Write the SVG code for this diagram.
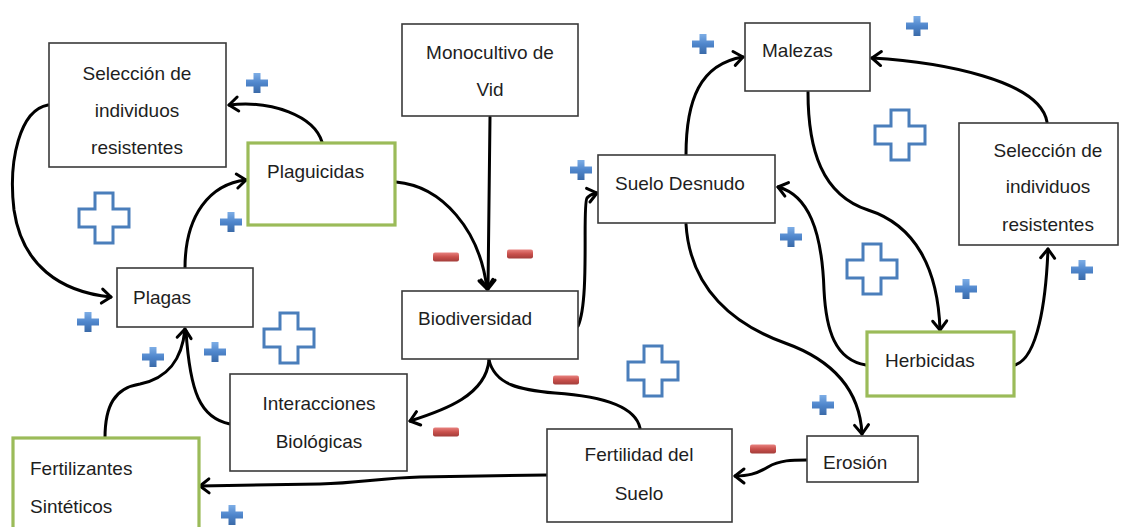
<svg xmlns="http://www.w3.org/2000/svg" width="1123" height="527" viewBox="0 0 1123 527">
<style>
.box{fill:#fff;stroke:#3a3a3a;stroke-width:1.6}
.gbox{fill:#fff;stroke:#9bbb59;stroke-width:3.2}
.t{font-family:"Liberation Sans",Arial,sans-serif;font-size:19px;fill:#1e1e1e}
.c{text-anchor:middle}
.con{fill:none;stroke:#000;stroke-width:3;stroke-linecap:round}
</style>
<defs>
<marker id="arr" markerUnits="userSpaceOnUse" markerWidth="24" markerHeight="24" viewBox="-12 -12 24 24" refX="0" refY="0" orient="auto">
<path d="M -9,-7 L 0,0 L -9,7" fill="none" stroke="#000" stroke-width="3" stroke-linecap="round" stroke-linejoin="round"/>
</marker>
<linearGradient id="bg" x1="0" y1="0" x2="0" y2="1">
<stop offset="0" stop-color="#7eaee6"/><stop offset="0.5" stop-color="#4f86cc"/><stop offset="1" stop-color="#3a6aa8"/>
</linearGradient>
<linearGradient id="rg" x1="0" y1="0" x2="0" y2="1">
<stop offset="0" stop-color="#e8827f"/><stop offset="0.5" stop-color="#c9504c"/><stop offset="1" stop-color="#a33d3a"/>
</linearGradient>
<g id="sp"><polygon points="-3.5,-10 3.5,-10 3.5,-3.5 11,-3.5 11,3.5 3.5,3.5 3.5,10 -3.5,10 -3.5,3.5 -11,3.5 -11,-3.5 -3.5,-3.5" fill="url(#bg)"/></g>
<g id="bp"><polygon points="-9,-25 9,-25 9,-9 25,-9 25,9 9,9 9,25 -9,25 -9,9 -25,9 -25,-9 -9,-9" fill="#fff" stroke="#4a7ebb" stroke-width="3"/></g>
<g id="mn"><rect x="-13" y="-4.5" width="26" height="9" rx="2" fill="url(#rg)"/></g>
</defs>

<g id="connectors">
<path class="con" d="M 48,105 C 20,110 8,160 14,210 C 22,265 60,292 111,297" marker-end="url(#arr)"/>
<path class="con" d="M 322,142 C 314,116 272,100 229,105" marker-end="url(#arr)"/>
<path class="con" d="M 185,268 C 185,215 210,184 246,180" marker-end="url(#arr)"/>
<path class="con" d="M 396,182 C 442,186 480,230 487,289" marker-end="url(#arr)"/>
<path class="con" d="M 490,117 L 488,289" marker-end="url(#arr)"/>
<path class="con" d="M 578,326 C 590,300 582,205 587,198 C 590,194 593,194 597,193" marker-end="url(#arr)"/>
<path class="con" d="M 686,155 C 686,100 700,64 743,57" marker-end="url(#arr)"/>
<path class="con" d="M 1047,122 C 1040,80 940,62 872,58" marker-end="url(#arr)"/>
<path class="con" d="M 808,92 C 808,150 822,195 868,210 C 915,225 938,268 940,330" marker-end="url(#arr)"/>
<path class="con" d="M 866,365 C 835,360 826,330 824,290 C 822,230 808,195 778,187" marker-end="url(#arr)"/>
<path class="con" d="M 1015,365 C 1038,358 1046,300 1048,249" marker-end="url(#arr)"/>
<path class="con" d="M 686,224 C 690,290 735,325 785,343 C 838,362 860,395 862,434" marker-end="url(#arr)"/>
<path class="con" d="M 489,360 C 486,395 445,410 410,421" marker-end="url(#arr)"/>
<path class="con" d="M 489,360 C 495,385 520,390 555,393 C 600,396 635,405 640,428"/>
<path class="con" d="M 807,460 C 792,460 780,460 768,467 C 756,474 748,476 735,476" marker-end="url(#arr)"/>
<path class="con" d="M 547,475 L 420,477 C 380,478 360,483 320,484 L 200,486" marker-end="url(#arr)"/>
<path class="con" d="M 105,438 C 105,405 115,388 140,384 C 168,378 182,360 185,329" marker-end="url(#arr)"/>
<path class="con" d="M 230,424 C 200,418 190,392 186,331"/>
</g>

<g id="n-seleccion-izq">
<rect class="box" x="49" y="43" width="177" height="124"/>
<text class="t c" x="137" y="80">Selección de</text>
<text class="t c" x="137" y="117">individuos</text>
<text class="t c" x="137" y="154">resistentes</text>
</g>
<g id="n-plaguicidas">
<rect class="gbox" x="248" y="143" width="147" height="82"/>
<text class="t" x="267" y="178">Plaguicidas</text>
</g>
<g id="n-plagas">
<rect class="box" x="117" y="268" width="136" height="59"/>
<text class="t" x="133" y="304">Plagas</text>
</g>
<g id="n-monocultivo">
<rect class="box" x="402" y="24" width="176" height="92"/>
<text class="t c" x="490" y="59">Monocultivo de</text>
<text class="t c" x="490" y="96">Vid</text>
</g>
<g id="n-biodiversidad">
<rect class="box" x="402" y="291" width="176" height="68"/>
<text class="t" x="418" y="325">Biodiversidad</text>
</g>
<g id="n-suelo-desnudo">
<rect class="box" x="598" y="155" width="177" height="68"/>
<text class="t" x="615" y="190">Suelo Desnudo</text>
</g>
<g id="n-malezas">
<rect class="box" x="745" y="23" width="125" height="68"/>
<text class="t" x="762" y="57">Malezas</text>
</g>
<g id="n-seleccion-der">
<rect class="box" x="959" y="123" width="159" height="122"/>
<text class="t c" x="1048" y="157">Selección de</text>
<text class="t c" x="1048" y="193">individuos</text>
<text class="t c" x="1048" y="231">resistentes</text>
</g>
<g id="n-herbicidas">
<rect class="gbox" x="867" y="332" width="147" height="64"/>
<text class="t" x="885" y="367">Herbicidas</text>
</g>
<g id="n-erosion">
<rect class="box" x="807" y="436" width="111" height="46"/>
<text class="t" x="823" y="469">Erosión</text>
</g>
<g id="n-fertilidad">
<rect class="box" x="547" y="429" width="185" height="93"/>
<text class="t c" x="639" y="461">Fertilidad del</text>
<text class="t c" x="639" y="500">Suelo</text>
</g>
<g id="n-interacciones">
<rect class="box" x="230" y="374" width="177" height="97"/>
<text class="t c" x="319" y="410">Interacciones</text>
<text class="t c" x="319" y="448">Biológicas</text>
</g>
<g id="n-fertilizantes">
<rect class="gbox" x="13" y="438" width="186" height="110"/>
<text class="t" x="30" y="475">Fertilizantes</text>
<text class="t" x="30" y="513">Sintéticos</text>
</g>

<g id="signs">
<use href="#sp" x="257" y="83"/>
<use href="#sp" x="231" y="222"/>
<use href="#sp" x="88" y="322"/>
<use href="#sp" x="153" y="357"/>
<use href="#sp" x="215" y="352"/>
<use href="#sp" x="232" y="515"/>
<use href="#sp" x="581" y="170"/>
<use href="#sp" x="703" y="44"/>
<use href="#sp" x="917" y="26"/>
<use href="#sp" x="791" y="237"/>
<use href="#sp" x="966" y="289"/>
<use href="#sp" x="1082" y="270"/>
<use href="#sp" x="823" y="405"/>
<use href="#bp" x="104" y="218"/>
<use href="#bp" x="289" y="338"/>
<use href="#bp" x="900" y="135"/>
<use href="#bp" x="872" y="269"/>
<use href="#bp" x="653" y="371"/>
<use href="#mn" x="446" y="257"/>
<use href="#mn" x="520" y="254"/>
<use href="#mn" x="566" y="380"/>
<use href="#mn" x="446" y="432"/>
<use href="#mn" x="763" y="449"/>
</g>
</svg>
